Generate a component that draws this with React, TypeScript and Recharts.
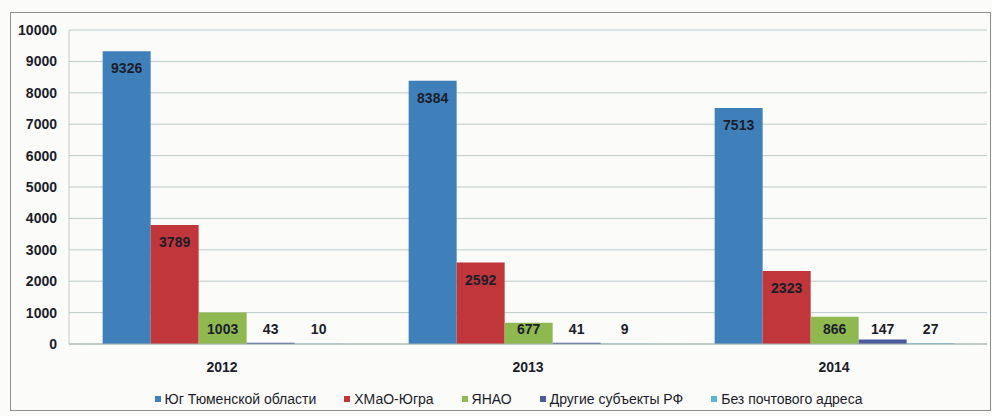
import React from "react";
import { BarChart, Bar, XAxis, YAxis, CartesianGrid, Legend, LabelList } from "recharts";

const years = ["2012", "2013", "2014"];
const yugTyumen = [9326, 8384, 7513];
const hmao = [3789, 2592, 2323];
const yanao = [1003, 677, 866];
const otherRegions = [43, 41, 147];
const noAddress = [10, 9, 27];
const yTicks = [0, 1000, 2000, 3000, 4000, 5000, 6000, 7000, 8000, 9000, 10000];

const series = [
  { key: "yug", name: "Юг Тюменской области", color: "#3f80ba" },
  { key: "hmao", name: "ХМаО-Югра", color: "#c0363a" },
  { key: "yanao", name: "ЯНАО", color: "#8fb950" },
  { key: "other", name: "Другие субъекты РФ", color: "#4c5a9b" },
  { key: "none", name: "Без почтового адреса", color: "#5db3da" },
];

const data = years.map((year, i) => ({
  year,
  yug: yugTyumen[i],
  hmao: hmao[i],
  yanao: yanao[i],
  other: otherRegions[i],
  none: noAddress[i],
}));

const FONT = "'Liberation Sans', Arial, sans-serif";

// excel-style "inside end" label, pushed up for short bars
const renderValue = (props: any) => {
  const { x, y, width, height, value } = props;
  const zeroY = Number(y) + Number(height);
  const cy = Math.min(Number(y) + 17, zeroY - 15);
  return (
    <text
      x={Number(x) + Number(width) / 2}
      y={cy}
      textAnchor="middle"
      dominantBaseline="central"
      fontFamily={FONT}
      fontSize={14}
      fontWeight="bold"
      fill="#1b1d2a"
    >
      {value}
    </text>
  );
};

const renderLegend = () => (
  <div
    style={{
      display: "flex",
      justifyContent: "center",
      gap: 28,
      fontFamily: FONT,
      fontSize: 14,
      color: "#1b1d2a",
      lineHeight: "22px",
      paddingLeft: 30,
    }}
  >
    {series.map((s) => (
      <span key={s.key} style={{ display: "flex", alignItems: "center" }}>
        <span style={{ width: 6, height: 6, background: s.color, marginRight: 4 }} />
        {s.name}
      </span>
    ))}
  </div>
);

export default function App() {
  return (
    <div style={{ position: "absolute", left: 0, top: 0, width: 992, height: 416, background: "#fbfbf9" }}>
      <div
        style={{
          position: "absolute",
          left: 10,
          top: 12,
          width: 979,
          height: 397,
          border: "1px solid #8e9090",
        }}
      />
      <BarChart
        width={992}
        height={416}
        data={data}
        margin={{ top: 30, right: 5, left: 0, bottom: 6 }}
        barCategoryGap="11%"
        barGap={0}
        style={{ position: "absolute", left: 0, top: 0 }}
      >
        <CartesianGrid vertical={false} stroke="#bccaca" />
        <XAxis
          dataKey="year"
          height={44}
          tickLine={false}
          tickMargin={12}
          axisLine={{ stroke: "#a9b3b3" }}
          tick={{ fontFamily: FONT, fontSize: 14, fontWeight: "bold", fill: "#1b1d2a" }}
        />
        <YAxis
          width={69}
          domain={[0, 10000]}
          ticks={yTicks}
          interval={0}
          tickLine={false}
          tickMargin={6}
          axisLine={{ stroke: "#c3cccc" }}
          tick={{ fontFamily: FONT, fontSize: 14, fontWeight: "bold", fill: "#1b1d2a" }}
        />
        <Legend verticalAlign="bottom" height={22} content={renderLegend} />
        {series.map((s) => (
          <Bar key={s.key} dataKey={s.key} name={s.name} fill={s.color} isAnimationActive={false}>
            <LabelList dataKey={s.key} content={renderValue} />
          </Bar>
        ))}
      </BarChart>
    </div>
  );
}
